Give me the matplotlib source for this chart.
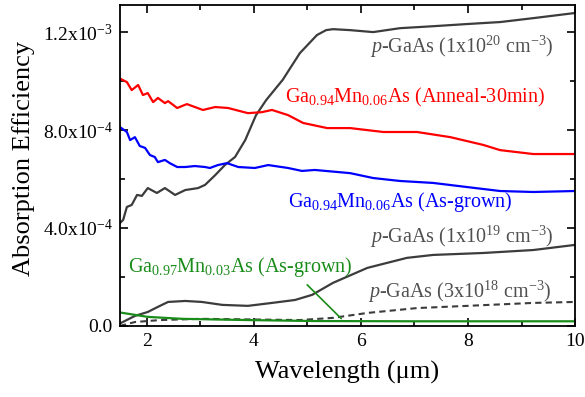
import matplotlib
matplotlib.use("Agg")
import matplotlib.pyplot as plt
from matplotlib.ticker import MultipleLocator

plt.rcParams['font.family'] = 'Liberation Serif'
plt.rcParams['mathtext.fontset'] = 'custom'
plt.rcParams['mathtext.rm'] = 'Liberation Serif'
plt.rcParams['mathtext.it'] = 'Liberation Serif:italic'

# values in units of 1e-4
anneal_x = [1.5, 1.63, 1.72, 1.84, 1.93, 2.02, 2.12, 2.21, 2.34, 2.40, 2.57, 2.75, 3.05, 3.28,
            3.52, 3.89, 4.15, 4.34, 4.64, 4.92, 5.37, 5.80, 6.42, 7.05, 7.67, 8.29, 8.60, 9.22, 10.0]
anneal_y = [10.1, 9.96, 9.63, 9.84, 9.43, 9.51, 9.14, 9.31, 9.10, 9.18, 8.90, 9.06, 8.82, 8.94,
            8.90, 8.69, 8.73, 8.82, 8.61, 8.29, 8.08, 8.08, 7.92, 7.92, 7.71, 7.39, 7.18, 7.02, 7.02]

asgrown6_x = [1.5, 1.63, 1.69, 1.78, 1.87, 1.97, 2.06, 2.15, 2.21, 2.34, 2.43, 2.57, 2.72, 2.90,
              3.09, 3.18, 3.33, 3.50, 3.71, 4.02, 4.27, 4.64, 4.90, 5.14, 5.80, 6.23, 6.73, 7.35,
              7.99, 8.60, 9.22, 10.0]
asgrown6_y = [8.12, 7.92, 7.59, 7.71, 7.35, 7.27, 6.98, 6.90, 6.69, 6.78, 6.65, 6.49, 6.49, 6.53,
              6.49, 6.45, 6.57, 6.65, 6.49, 6.45, 6.57, 6.45, 6.33, 6.37, 6.24, 6.04, 5.92, 5.84,
              5.67, 5.51, 5.47, 5.51]

p20_x = [1.5, 1.56, 1.63, 1.72, 1.82, 1.91, 2.02, 2.19, 2.34, 2.53, 2.72, 2.96, 3.09, 3.28, 3.46,
         3.65, 3.84, 4.04, 4.23, 4.54, 4.86, 5.18, 5.35, 5.48, 5.80, 6.23, 6.73, 7.35, 7.99, 8.60,
         9.22, 10.0]
p20_y = [4.20, 4.33, 4.86, 4.94, 5.35, 5.31, 5.63, 5.43, 5.63, 5.35, 5.55, 5.63, 5.76, 6.16, 6.57,
         6.90, 7.59, 8.60, 9.22, 10.05, 11.14, 11.88, 12.08, 12.12, 12.08, 12.0, 12.16, 12.24, 12.33,
         12.41, 12.57, 12.78]

p19_x = [1.5, 1.78, 2.02, 2.21, 2.40, 2.72, 3.03, 3.41, 3.89, 4.34, 4.77, 5.09, 5.48, 6.12, 6.86,
         7.35, 8.29, 9.22, 10.0]
p19_y = [0.10, 0.41, 0.57, 0.78, 0.98, 1.02, 0.98, 0.86, 0.82, 0.94, 1.06, 1.27, 1.76, 2.37, 2.78,
         2.90, 2.98, 3.10, 3.31]

p18_x = [1.5, 1.78, 2.25, 3.0, 4.86, 5.48, 6.12, 7.05, 7.99, 9.22, 10.0]
p18_y = [0.0, 0.16, 0.24, 0.29, 0.24, 0.33, 0.53, 0.73, 0.82, 0.94, 0.98]

asgrown3_x = [1.5, 2.02, 2.66, 3.89, 5.14, 7.0, 10.0]
asgrown3_y = [0.55, 0.37, 0.29, 0.24, 0.20, 0.19, 0.19]

ytick_vals = [0, 4e-4, 8e-4, 1.2e-3]
ytick_labels = ['0.0', r'4.0x10$^{-4}$', r'8.0x10$^{-4}$', r'1.2x10$^{-3}$']

gray = '#3c3c3c'
tgray = '#505050'
green = '#1a8c1a'

fig = plt.figure(figsize=(5.85, 3.97), dpi=100)
ax = fig.add_axes([0.205, 0.179, 0.778, 0.808])

s = 1e-4
ax.plot(p18_x, [v * s for v in p18_y], color=gray, lw=1.5, ls=(0, (3, 2)))
ax.plot(p19_x, [v * s for v in p19_y], color=gray, lw=1.6)
ax.plot(p20_x, [v * s for v in p20_y], color=gray, lw=1.6)
ax.plot(anneal_x, [v * s for v in anneal_y], color='red', lw=1.6)
ax.plot(asgrown6_x, [v * s for v in asgrown6_y], color='blue', lw=1.6)
ax.plot(asgrown3_x, [v * s for v in asgrown3_y], color=green, lw=1.6)

fs = 14.5
ax.text(6.17, 11.39 * s, r'$p$-GaAs (1x10$^{20}$ cm$^{-3}$)', color=tgray, fontsize=fs, va='center')
ax.text(4.58, 9.35 * s, r'Ga$_{0.94}$Mn$_{0.06}$As (Anneal-30min)', color='red', fontsize=fs, va='center')
ax.text(4.64, 5.06 * s, r'Ga$_{0.94}$Mn$_{0.06}$As (As-grown)', color='blue', fontsize=fs, va='center')
ax.text(6.17, 3.63 * s, r'$p$-GaAs (1x10$^{19}$ cm$^{-3}$)', color=tgray, fontsize=fs, va='center')
ax.text(1.65, 2.41 * s, r'Ga$_{0.97}$Mn$_{0.03}$As (As-grown)', color=green, fontsize=fs, va='center')
ax.text(6.14, 1.39 * s, r'$p$-GaAs (3x10$^{18}$ cm$^{-3}$)', color=tgray, fontsize=fs, va='center')
ax.annotate('', xy=(5.67, 0.22 * s), xytext=(4.96, 1.76 * s),
            arrowprops=dict(arrowstyle='-', color=green, lw=1.2))

ax.set_xlim(1.5, 10)
ax.set_ylim(0, 13.1 * s)
ax.set_xticks([2, 4, 6, 8, 10])
ax.xaxis.set_minor_locator(MultipleLocator(1))
ax.set_yticks(ytick_vals)
ax.set_yticklabels(ytick_labels)
ax.yaxis.set_minor_locator(MultipleLocator(2e-4))
ax.tick_params(which='both', direction='in', top=True, right=True, labelsize=14, width=1.2)
ax.tick_params(which='major', length=6, pad=5)
ax.tick_params(which='minor', length=3.5)
for sp in ax.spines.values():
    sp.set_linewidth(1.3)

ax.set_xlabel('Wavelength (\u03bcm)', fontsize=19)
ax.set_ylabel('Absorption Efficiency', fontsize=19)
ax.xaxis.set_label_coords(0.5, -0.108)
ax.yaxis.set_label_coords(-0.187, 0.523)

fig.savefig('out.png', dpi=100)
